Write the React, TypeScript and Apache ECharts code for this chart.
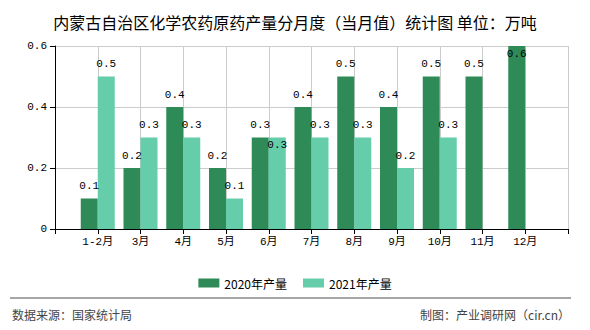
import React, { useEffect, useRef } from "react";
import * as echarts from "echarts";

const categories = ["", "1-2月", "3月", "4月", "5月", "6月", "7月", "8月", "9月", "10月", "11月", "12月", ""];
const values2020: (number | null)[] = [null, 0.1, 0.2, 0.4, 0.2, 0.3, 0.4, 0.5, 0.4, 0.5, 0.5, 0.6, null];
const values2021: (number | null)[] = [null, 0.5, 0.3, 0.3, 0.1, 0.3, 0.3, 0.3, 0.2, 0.3, null, null, null];
const seriesNames = ["2020年产量", "2021年产量"];
const yTicks = { min: 0, max: 0.6, interval: 0.2 };

const titleText = "内蒙古自治区化学农药原药产量分月度（当月值）统计图 单位：万吨";
const sourceText = "数据来源：国家统计局";
const makerText = "制图：产业调研网（cir.cn）";

const MONO = "'Liberation Mono', 'Noto Sans CJK SC', monospace";
const CJK = "'Noto Sans CJK SC', sans-serif";

function buildData(vals: (number | null)[], insideIdx: number[]) {
  return vals.map((v, i) =>
    insideIdx.includes(i) && v != null
      ? { value: v, label: { position: "insideTop", distance: 2 } }
      : v
  );
}

export default function App() {
  const ref = useRef<HTMLDivElement>(null);
  useEffect(() => {
    if (!ref.current) return;
    const chart = echarts.init(ref.current, undefined, { renderer: "svg" });
    const labelCfg = {
      show: true,
      position: "top",
      distance: 7,
      color: "#000",
      fontSize: 11,
      fontFamily: MONO,
      formatter: (p: any) => (p.value == null ? "" : Number(p.value).toFixed(1)),
    };
    chart.setOption({
      animation: false,
      backgroundColor: "#fff",
      title: {
        text: titleText,
        left: "center",
        top: 9,
        textStyle: { fontSize: 16, fontWeight: "normal", fontFamily: CJK, color: "#000" },
      },
      legend: {
        data: seriesNames,
        left: "center",
        top: 272,
        itemWidth: 21,
        itemHeight: 9,
        itemGap: 16,
        icon: "rect",
        textStyle: { fontSize: 12, fontFamily: CJK, color: "#000" },
      },
      grid: { left: 55, right: 22, top: 46, bottom: 101, containLabel: false },
      xAxis: {
        type: "category",
        data: categories,
        boundaryGap: false,
        axisLine: { lineStyle: { color: "#000", width: 1 } },
        axisTick: { show: true, interval: 0, length: 5, lineStyle: { color: "#000" } },
        axisLabel: { interval: 0, color: "#000", fontSize: 11, fontFamily: MONO, margin: 7 },
        splitLine: { show: true, interval: 0, lineStyle: { color: "#ccc" } },
      },
      yAxis: {
        type: "value",
        min: yTicks.min,
        max: yTicks.max,
        interval: yTicks.interval,
        axisLine: { show: true, lineStyle: { color: "#000" } },
        axisTick: { show: true, length: 5, lineStyle: { color: "#000" } },
        axisLabel: {
          color: "#000",
          fontSize: 11,
          fontFamily: MONO,
          margin: 8,
          formatter: (v: number) => (v === 0 ? "0" : v.toFixed(1)),
        },
        splitLine: { show: true, lineStyle: { color: "#ccc" } },
      },
      series: [
        {
          name: seriesNames[0],
          type: "bar",
          barWidth: 17,
          barGap: "0%",
          itemStyle: { color: "#2e8b57" },
          label: labelCfg,
          data: buildData(values2020, [11]),
        },
        {
          name: seriesNames[1],
          type: "bar",
          barWidth: 17,
          barGap: "0%",
          itemStyle: { color: "#66cdaa" },
          label: labelCfg,
          data: buildData(values2021, [5]),
        },
      ],
      graphic: [
        {
          type: "line",
          shape: { x1: 10, y1: 298, x2: 571, y2: 298 },
          style: { stroke: "#888", lineWidth: 1.5 },
        },
        {
          type: "text",
          left: 12,
          top: 308,
          style: { text: sourceText, fontSize: 12, fontFamily: CJK, fill: "#444" },
        },
        {
          type: "text",
          right: 20,
          top: 308,
          style: { text: makerText, fontSize: 12, fontFamily: CJK, fill: "#444" },
        },
      ],
    });
    return () => chart.dispose();
  }, []);
  return (
    <div
      ref={ref}
      style={{ position: "absolute", left: 0, top: 0, width: 590, height: 330 }}
    />
  );
}
